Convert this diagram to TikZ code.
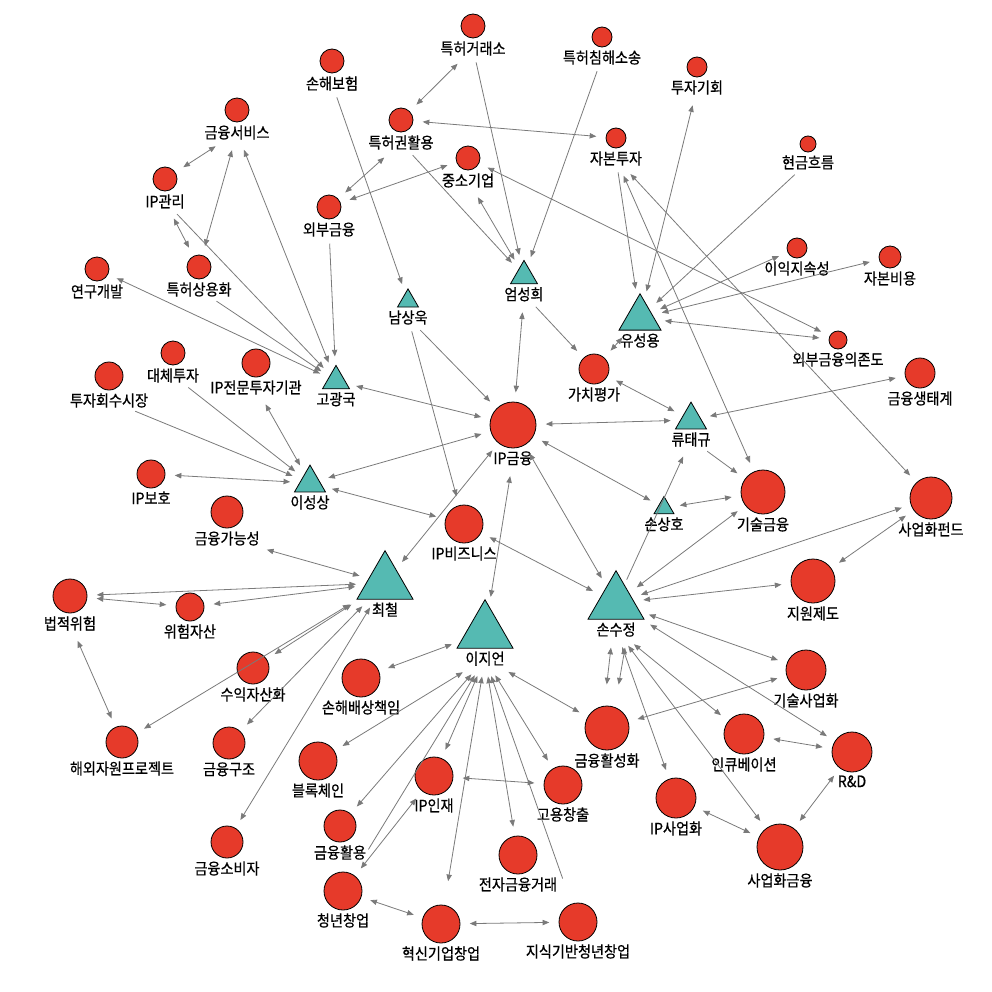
\documentclass[tikz,border=0pt]{standalone}
\usepackage{fontspec}
\setmainfont{Noto Sans CJK KR}[FakeBold=0.6, FakeStretch=0.9]
\usetikzlibrary{positioning, shapes.geometric, arrows.meta}
\definecolor{nred}{HTML}{E63A2A}
\definecolor{nteal}{HTML}{55BAB2}
\definecolor{lgray}{HTML}{7A7A7A}

\begin{document}
\begin{tikzpicture}[x=0.75pt, y=-0.75pt, node distance=1pt,
  every node/.style={font=\fontsize{11.8}{13}\selectfont},
  rnode/.style={circle, draw=black, line width=0.6pt, fill=nred, inner sep=0pt, minimum size=#1*1.5pt},
  tnode/.style={regular polygon, regular polygon sides=3, draw=black, line width=0.6pt, fill=nteal, inner sep=0pt, minimum size=#1*0.866pt},
  lbl/.style={inner sep=1pt},
  twoway/.style={draw=lgray, line width=0.6pt, {Triangle[length=5pt,width=4pt]}-{Triangle[length=5pt,width=4pt]}, shorten <=7pt, shorten >=7pt},
  oneway/.style={draw=lgray, line width=0.6pt, -{Triangle[length=5pt,width=4pt]}, shorten <=4pt, shorten >=7pt}]
\useasboundingbox (0,0) rectangle (992,992);

\node[rnode=12] (ptexch) at (473,26) {};   \node[lbl, below=of ptexch] (ptexchl) {특허거래소};
\node[rnode=10] (ptsuit) at (602,37) {};   \node[lbl, below=of ptsuit] (ptsuitl) {특허침해소송};
\node[rnode=10] (invopp) at (697,67) {};   \node[lbl, below=of invopp] (invoppl) {투자기회};
\node[rnode=12] (ins) at (332,61) {};      \node[lbl, below=of ins] (insl) {손해보험};
\node[rnode=12] (finsvc) at (237,110) {};  \node[lbl, below=of finsvc] (finsvcl) {금융서비스};
\node[rnode=12] (ptuse) at (401,120) {};   \node[lbl, below=of ptuse] (ptusel) {특허권활용};
\node[rnode=10] (capinv) at (616,138) {};  \node[lbl, below=of capinv] (capinvl) {자본투자};
\node[rnode=12] (sme) at (468,158) {};     \node[lbl, below=of sme] (smel) {중소기업};
\node[rnode=8] (cash) at (808,144) {};     \node[lbl, below=of cash] (cashl) {현금흐름};
\node[rnode=12] (ipmgmt) at (165,179) {};  \node[lbl, below=of ipmgmt] (ipmgmtl) {IP관리};
\node[rnode=12] (extfin) at (329,207) {};  \node[lbl, below=of extfin] (extfinl) {외부금융};
\node[rnode=12] (rnddev) at (97,269) {};   \node[lbl, below=of rnddev] (rnddevl) {연구개발};
\node[rnode=12] (ptcom) at (199,267) {};   \node[lbl, below=of ptcom] (ptcoml) {특허상용화};
\node[rnode=10] (profit) at (797,248) {};  \node[lbl, below=of profit] (profitl) {이익지속성};
\node[rnode=11] (capcost) at (890,257) {}; \node[lbl, below=of capcost] (capcostl) {자본비용};
\node[rnode=9] (extdep) at (838,340) {};   \node[lbl, below=of extdep] (extdepl) {외부금융의존도};
\node[rnode=15] (eco) at (920,373) {};     \node[lbl, below=of eco] (ecol) {금융생태계};
\node[rnode=12] (altinv) at (173,353) {};  \node[lbl, below=of altinv] (altinvl) {대체투자};
\node[rnode=14] (ipfund) at (256,363) {};  \node[lbl, below=of ipfund] (ipfundl) {IP전문투자기관};
\node[rnode=14] (exit) at (109,376) {};    \node[lbl, below=of exit] (exitl) {투자회수시장};
\node[rnode=15] (val) at (594,369) {};     \node[lbl, below=of val] (vall) {가치평가};
\node[rnode=23] (ipfin) at (513,425) {};   \node[lbl, below=of ipfin] (ipfinl) {IP금융};
\node[rnode=14] (ipprot) at (151,474) {};  \node[lbl, below=of ipprot] (ipprotl) {IP보호};
\node[rnode=16] (feas) at (227,512) {};    \node[lbl, below=of feas] (feasl) {금융가능성};
\node[rnode=22] (techfin) at (763,492) {}; \node[lbl, below=of techfin] (techfinl) {기술금융};
\node[rnode=21] (comfund) at (931,498) {}; \node[lbl, below=of comfund] (comfundl) {사업화펀드};
\node[rnode=19] (ipbiz) at (464,524) {};   \node[lbl, below=of ipbiz] (ipbizl) {IP비즈니스};
\node[rnode=22] (support) at (813,581) {}; \node[lbl, below=of support] (supportl) {지원제도};
\node[rnode=17] (legal) at (70,596) {};    \node[lbl, below=of legal] (legall) {법적위험};
\node[rnode=14] (riskast) at (190,607) {}; \node[lbl, below=of riskast] (riskastl) {위험자산};
\node[rnode=16] (secur) at (253,668) {};   \node[lbl, below=of secur] (securl) {수익자산화};
\node[rnode=19] (damage) at (361,678) {};  \node[lbl, below=of damage] (damagel) {손해배상책임};
\node[rnode=20] (techcom) at (806,670) {}; \node[lbl, below=of techcom] (techcoml) {기술사업화};
\node[rnode=22] (finact) at (607,728) {};  \node[lbl, below=of finact] (finactl) {금융활성화};
\node[rnode=16] (overseas) at (122,742) {};\node[lbl, below=of overseas] (overseasl) {해외자원프로젝트};
\node[rnode=16] (finstr) at (229,743) {};  \node[lbl, below=of finstr] (finstrl) {금융구조};
\node[rnode=20] (incub) at (744,734) {};   \node[lbl, below=of incub] (incubl) {인큐베이션};
\node[rnode=20] (rd) at (852,752) {};      \node[lbl, below=of rd] (rdl) {R\&D};
\node[rnode=19] (block) at (318,761) {};   \node[lbl, below=of block] (blockl) {블록체인};
\node[rnode=19] (iptal) at (434,776) {};   \node[lbl, below=of iptal] (iptall) {IP인재};
\node[rnode=19] (job) at (563,785) {};     \node[lbl, below=of job] (jobl) {고용창출};
\node[rnode=20] (ipcom) at (676,798) {};   \node[lbl, below=of ipcom] (ipcoml) {IP사업화};
\node[rnode=16] (finuse) at (340,826) {};  \node[lbl, below=of finuse] (finusel) {금융활용};
\node[rnode=23] (comfin) at (780,847) {};  \node[lbl, below=of comfin] (comfinl) {사업화금융};
\node[rnode=16] (consum) at (227,842) {};  \node[lbl, below=of consum] (consuml) {금융소비자};
\node[rnode=19] (efin) at (518,855) {};    \node[lbl, below=of efin] (efinl) {전자금융거래};
\node[rnode=19] (youth) at (343,891) {};   \node[lbl, below=of youth] (youthl) {청년창업};
\node[rnode=19] (innov) at (441,924) {};   \node[lbl, below=of innov] (innovl) {혁신기업창업};
\node[rnode=19] (knowl) at (578,922) {};   \node[lbl, below=of knowl] (knowll) {지식기반청년창업};

\node[tnode=27] (eom) at (524,276) {};     \node[lbl, below=of eom.side 2] (eoml) {엄성희};
\node[tnode=21] (nam) at (408,301) {};     \node[lbl, below=of nam.side 2] (naml) {남상욱};
\node[tnode=42] (yu) at (640,318) {};      \node[lbl, below=of yu.side 2] (yul) {유성용};
\node[tnode=27] (go) at (336,381) {};      \node[lbl, below=of go.side 2] (gol) {고광국};
\node[tnode=31] (ryu) at (691,420) {};     \node[lbl, below=of ryu.side 2] (ryul) {류태규};
\node[tnode=31] (seong) at (310,483) {};   \node[lbl, below=of seong.side 2] (seongl) {이성상};
\node[tnode=20] (sangho) at (664,508) {};  \node[lbl, below=of sangho.side 2] (sanghol) {손상호};
\node[tnode=56] (choi) at (385,583) {};    \node[lbl, below=of choi.side 2] (choil) {최철};
\node[tnode=56] (sujeong) at (616,603) {}; \node[lbl, below=of sujeong.side 2] (sujeongl) {손수정};
\node[tnode=56] (ji) at (485,632) {};      \node[lbl, below=of ji.side 2] (jil) {이지언};

\draw[twoway] (ptexchl) -- (ptuse);
\draw[twoway] (ptuse) -- (capinv);
\draw[oneway] (insl) -- (nam);
\draw[twoway] (finsvcl) -- (ipmgmt);
\draw[twoway] (finsvcl) -- (ptcom);
\draw[twoway] (ipmgmtl) -- (ptcom);
\draw[twoway] (rnddev) -- (go);
\draw[oneway] (ptcoml) -- (go);
\draw[oneway] (ipmgmtl) -- (go);
\draw[twoway] (finsvcl) -- (go);
\draw[oneway] (extfinl) -- (go);
\draw[twoway] (ptusel) -- (extfin);
\draw[twoway] (sme) -- (extfin);
\draw[oneway] (ptusel) -- (eom);
\draw[twoway] (smel) -- (eom);
\draw[oneway] (ptexchl) -- (eom);
\draw[oneway] (ptsuitl) -- (eom);
\draw[twoway] (sme) -- (extdep);
\draw[twoway] (invoppl) -- (yu);
\draw[oneway] (capinvl) -- (yu);
\draw[twoway] (capinvl) -- (techfin);
\draw[twoway] (capinvl) -- (comfund);
\draw[oneway] (cashl) -- (yu);
\draw[twoway] (yu) -- (profit);
\draw[twoway] (yu) -- (capcost);
\draw[twoway] (yu) -- (extdep);
\draw[twoway] (yu) -- (val);
\draw[oneway] (eoml) -- (val);
\draw[twoway] (eoml) -- (ipfin);
\draw[oneway] (naml) -- (ipfin);
\draw[oneway] (naml) -- (ipbiz);
\draw[twoway] (val) -- (ryu);
\draw[twoway] (ipfin) -- (ryu);
\draw[twoway] (ryu) -- (eco);
\draw[oneway] (ryul) -- (techfin);
\draw[twoway] (ipfin) -- (sangho);
\draw[twoway] (sangho) -- (techfin);
\draw[twoway] (ipfin) -- (sujeong);
\draw[oneway] (sujeong) -- (ryul);
\draw[twoway] (techfin) -- (sujeong);
\draw[twoway] (comfund) -- (sujeong);
\draw[twoway] (support) -- (comfund);
\draw[twoway] (sujeong) -- (support);
\draw[twoway] (sujeong) -- (techcom);
\draw[twoway] (ipbiz) -- (sujeong);
\draw[twoway] (ipfinl) -- (ji);
\draw[twoway] (go) -- (ipfin);
\draw[twoway] (seong) -- (ipfin);
\draw[twoway] (seong) -- (ipbiz);
\draw[twoway] (choi) -- (ipfin);
\draw[oneway] (exitl) -- (seong);
\draw[oneway] (altinvl) -- (seong);
\draw[twoway] (ipfundl) -- (seong);
\draw[twoway] (ipprot) -- (seong);
\draw[twoway] (feasl) -- (choi);
\draw[twoway] (legal) -- (choi);
\draw[twoway] (riskast) -- (choi);
\draw[twoway] (legal) -- (riskast);
\draw[twoway] (legall) -- (overseas);
\draw[twoway] (choi) -- (overseas);
\draw[twoway] (choi) -- (secur);
\draw[twoway] (choi) -- (finstr);
\draw[twoway] (choi) -- (consum);
\draw[twoway] (damage) -- (ji);
\draw[twoway] (jil) -- (block);
\draw[twoway] (jil) -- (finuse);
\draw[oneway, shorten <=22pt] (youth) -- (jil);
\draw[twoway] (jil) -- (iptal);
\draw[twoway, shorten >=18pt] (jil) -- (innov);
\draw[twoway] (jil) -- (efin);
\draw[oneway, shorten <=20pt] (knowl) -- (jil);
\draw[twoway] (jil) -- (job);
\draw[twoway] (jil) -- (finact);
\draw[twoway] (iptal) -- (job);
\draw[twoway] (youth) -- (iptal);
\draw[twoway] (youth) -- (innov);
\draw[twoway] (innov) -- (knowl);
\draw[twoway, shorten >=16pt] ([xshift=-3pt]sujeongl.south) -- ([xshift=-2pt]finact.north);
\draw[twoway, shorten >=16pt] ([xshift=8pt]sujeongl.south) -- ([xshift=6pt]finact.north);
\draw[twoway] (sujeongl) -- (ipcom);
\draw[twoway] (sujeongl) -- (comfin);
\draw[twoway] (sujeongl) -- (incub);
\draw[twoway] (sujeong) -- (rd);
\draw[twoway] (finact) -- (techcom);
\draw[twoway] (incub) -- (rd);
\draw[twoway] (ipcom) -- (comfin);
\draw[twoway] (rd) -- (comfin);
\end{tikzpicture}
\end{document}
